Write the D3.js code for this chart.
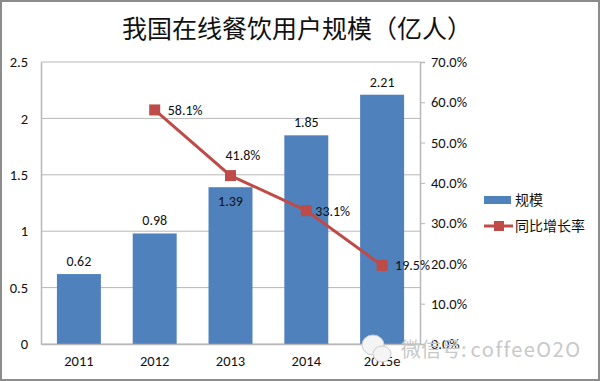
<!DOCTYPE html>
<html>
<head>
<meta charset="utf-8">
<script src="https://cdn.jsdelivr.net/npm/d3@7"></script>
<style>
  html, body { margin: 0; padding: 0; background: #fff; }
  svg { display: block; }
  text { font-family: Carlito, Lato, "Noto Sans", sans-serif; fill: #111; }
  .cjk { font-family: "Noto Sans CJK SC", sans-serif; }
</style>
</head>
<body>
<div id="chart"></div>
<script>
var years = ["2011", "2012", "2013", "2014", "2015e"];
var users = [0.62, 0.98, 1.39, 1.85, 2.21];
var growthYears = ["2012", "2013", "2014", "2015e"];
var growth = [58.1, 41.8, 33.1, 19.5];
var leftTicks = [0, 0.5, 1, 1.5, 2, 2.5];
var leftTickLabels = ["0", "0.5", "1", "1.5", "2", "2.5"];
var rightTicks = [0, 10, 20, 30, 40, 50, 60, 70];

var width = 600, height = 381;
var margin = {top: 62, right: 180, bottom: 37, left: 41};
var innerW = width - margin.left - margin.right;
var innerH = height - margin.top - margin.bottom;

var svg = d3.select("#chart").append("svg")
    .attr("width", width)
    .attr("height", height);

// Picture frame
svg.append("rect")
    .attr("x", 1).attr("y", 1)
    .attr("width", width - 2).attr("height", height - 2)
    .attr("fill", "#fff")
    .attr("stroke", "#8c8c8c")
    .attr("stroke-width", 2);

svg.append("text")
    .attr("class", "cjk")
    .attr("x", 297).attr("y", 38)
    .attr("text-anchor", "middle")
    .attr("font-size", 25)
    .text("我国在线餐饮用户规模（亿人）");

var g = svg.append("g")
    .attr("transform", "translate(" + margin.left + "," + margin.top + ")");

// Set the ranges
var x = d3.scaleBand().domain(years).range([0, innerW]).paddingInner(0.42).paddingOuter(0.21);
var y = d3.scaleLinear().domain([0, 2.5]).range([innerH, 0]);
var yRight = d3.scaleLinear().domain([0, 70]).range([innerH, 0]);

// Gridlines
g.selectAll("line.grid")
    .data(leftTicks)
    .enter().append("line")
    .attr("class", "grid")
    .attr("x1", 0).attr("x2", innerW)
    .attr("y1", function(d) { return y(d); })
    .attr("y2", function(d) { return y(d); })
    .attr("stroke", "#b8b8b8")
    .attr("stroke-width", 1);

// Bars
g.selectAll("rect.bar")
    .data(users)
    .enter().append("rect")
    .attr("class", "bar")
    .attr("x", function(d, i) { return x(years[i]); })
    .attr("y", function(d) { return y(d); })
    .attr("width", x.bandwidth())
    .attr("height", function(d) { return innerH - y(d); })
    .attr("fill", "#4f81bd");

// Axes
var xAxis = d3.axisBottom(x).tickSize(0).tickPadding(12);
var yAxis = d3.axisLeft(y).tickValues(leftTicks)
    .tickFormat(function(d, i) { return leftTickLabels[i]; })
    .tickSize(0).tickPadding(13);
var yAxisRight = d3.axisRight(yRight).tickValues(rightTicks)
    .tickFormat(function(d) { return d.toFixed(1) + "%"; })
    .tickSize(5).tickPadding(6);

var axes = [
    g.append("g").attr("transform", "translate(0," + innerH + ")").call(xAxis),
    g.append("g").call(yAxis),
    g.append("g").attr("transform", "translate(" + innerW + ",0)").call(yAxisRight)
];
axes.forEach(function(a) {
    a.selectAll("path").attr("stroke", "#b8b8b8").attr("stroke-width", 1.5);
    a.selectAll("line").attr("stroke", "#b8b8b8");
    a.selectAll("text").attr("font-size", 14.5).style("font-family", "Carlito, Lato, sans-serif").attr("fill", "#111");
});

// Growth line
var centre = function(name) { return x(name) + x.bandwidth() / 2; };
var line = d3.line()
    .x(function(d, i) { return centre(growthYears[i]); })
    .y(function(d) { return yRight(d); });

g.append("path")
    .attr("d", line(growth))
    .attr("fill", "none")
    .attr("stroke", "#be4b48")
    .attr("stroke-width", 3);

g.selectAll("rect.marker")
    .data(growth)
    .enter().append("rect")
    .attr("class", "marker")
    .attr("x", function(d, i) { return centre(growthYears[i]) - 5.5; })
    .attr("y", function(d) { return yRight(d) - 5.5; })
    .attr("width", 11).attr("height", 11)
    .attr("fill", "#be4b48");

// Data labels
var barLabelDy = [-8, -8, 19, -8, -8];
g.selectAll("text.barLabel")
    .data(users)
    .enter().append("text")
    .attr("class", "barLabel")
    .attr("x", function(d, i) { return centre(years[i]); })
    .attr("y", function(d, i) { return y(d) + barLabelDy[i]; })
    .attr("text-anchor", "middle")
    .attr("font-size", 14)
    .text(function(d) { return d; });

var lineLabelDx = [13, -5, 9, 13];
var lineLabelDy = [5, -16, 5, 5];
g.selectAll("text.lineLabel")
    .data(growth)
    .enter().append("text")
    .attr("class", "lineLabel")
    .attr("x", function(d, i) { return centre(growthYears[i]) + lineLabelDx[i]; })
    .attr("y", function(d, i) { return yRight(d) + lineLabelDy[i]; })
    .attr("font-size", 14)
    .text(function(d) { return d.toFixed(1) + "%"; });

// Legend
var legend = svg.append("g").attr("transform", "translate(484,200)");
legend.append("rect").attr("x", 0).attr("y", -4).attr("width", 27).attr("height", 8).attr("fill", "#4f81bd");
legend.append("text").attr("class", "cjk").attr("x", 31).attr("y", 5).attr("font-size", 14).text("规模");
legend.append("line").attr("x1", 0).attr("x2", 29).attr("y1", 26).attr("y2", 26).attr("stroke", "#be4b48").attr("stroke-width", 3);
legend.append("rect").attr("x", 10).attr("y", 21).attr("width", 10).attr("height", 10).attr("fill", "#be4b48");
legend.append("text").attr("class", "cjk").attr("x", 31).attr("y", 31).attr("font-size", 14).text("同比增长率");

// Watermark
var mark = svg.append("g");
mark.append("ellipse").attr("cx", 373).attr("cy", 345).attr("rx", 11).attr("ry", 10).attr("fill", "#f4f4f4").attr("stroke", "#ccc");
mark.append("ellipse").attr("cx", 382).attr("cy", 354).attr("rx", 9).attr("ry", 8).attr("fill", "#f4f4f4").attr("stroke", "#ccc");
var markText = mark.append("text")
    .attr("class", "cjk")
    .attr("x", 401).attr("y", 357)
    .style("fill", "#c8c8c8");
markText.append("tspan").attr("font-size", 20).text("微信号:");
markText.append("tspan").attr("dx", 4).attr("font-size", 20).attr("letter-spacing", 1.5).text("coffeeO2O");
</script>
</body>
</html>
